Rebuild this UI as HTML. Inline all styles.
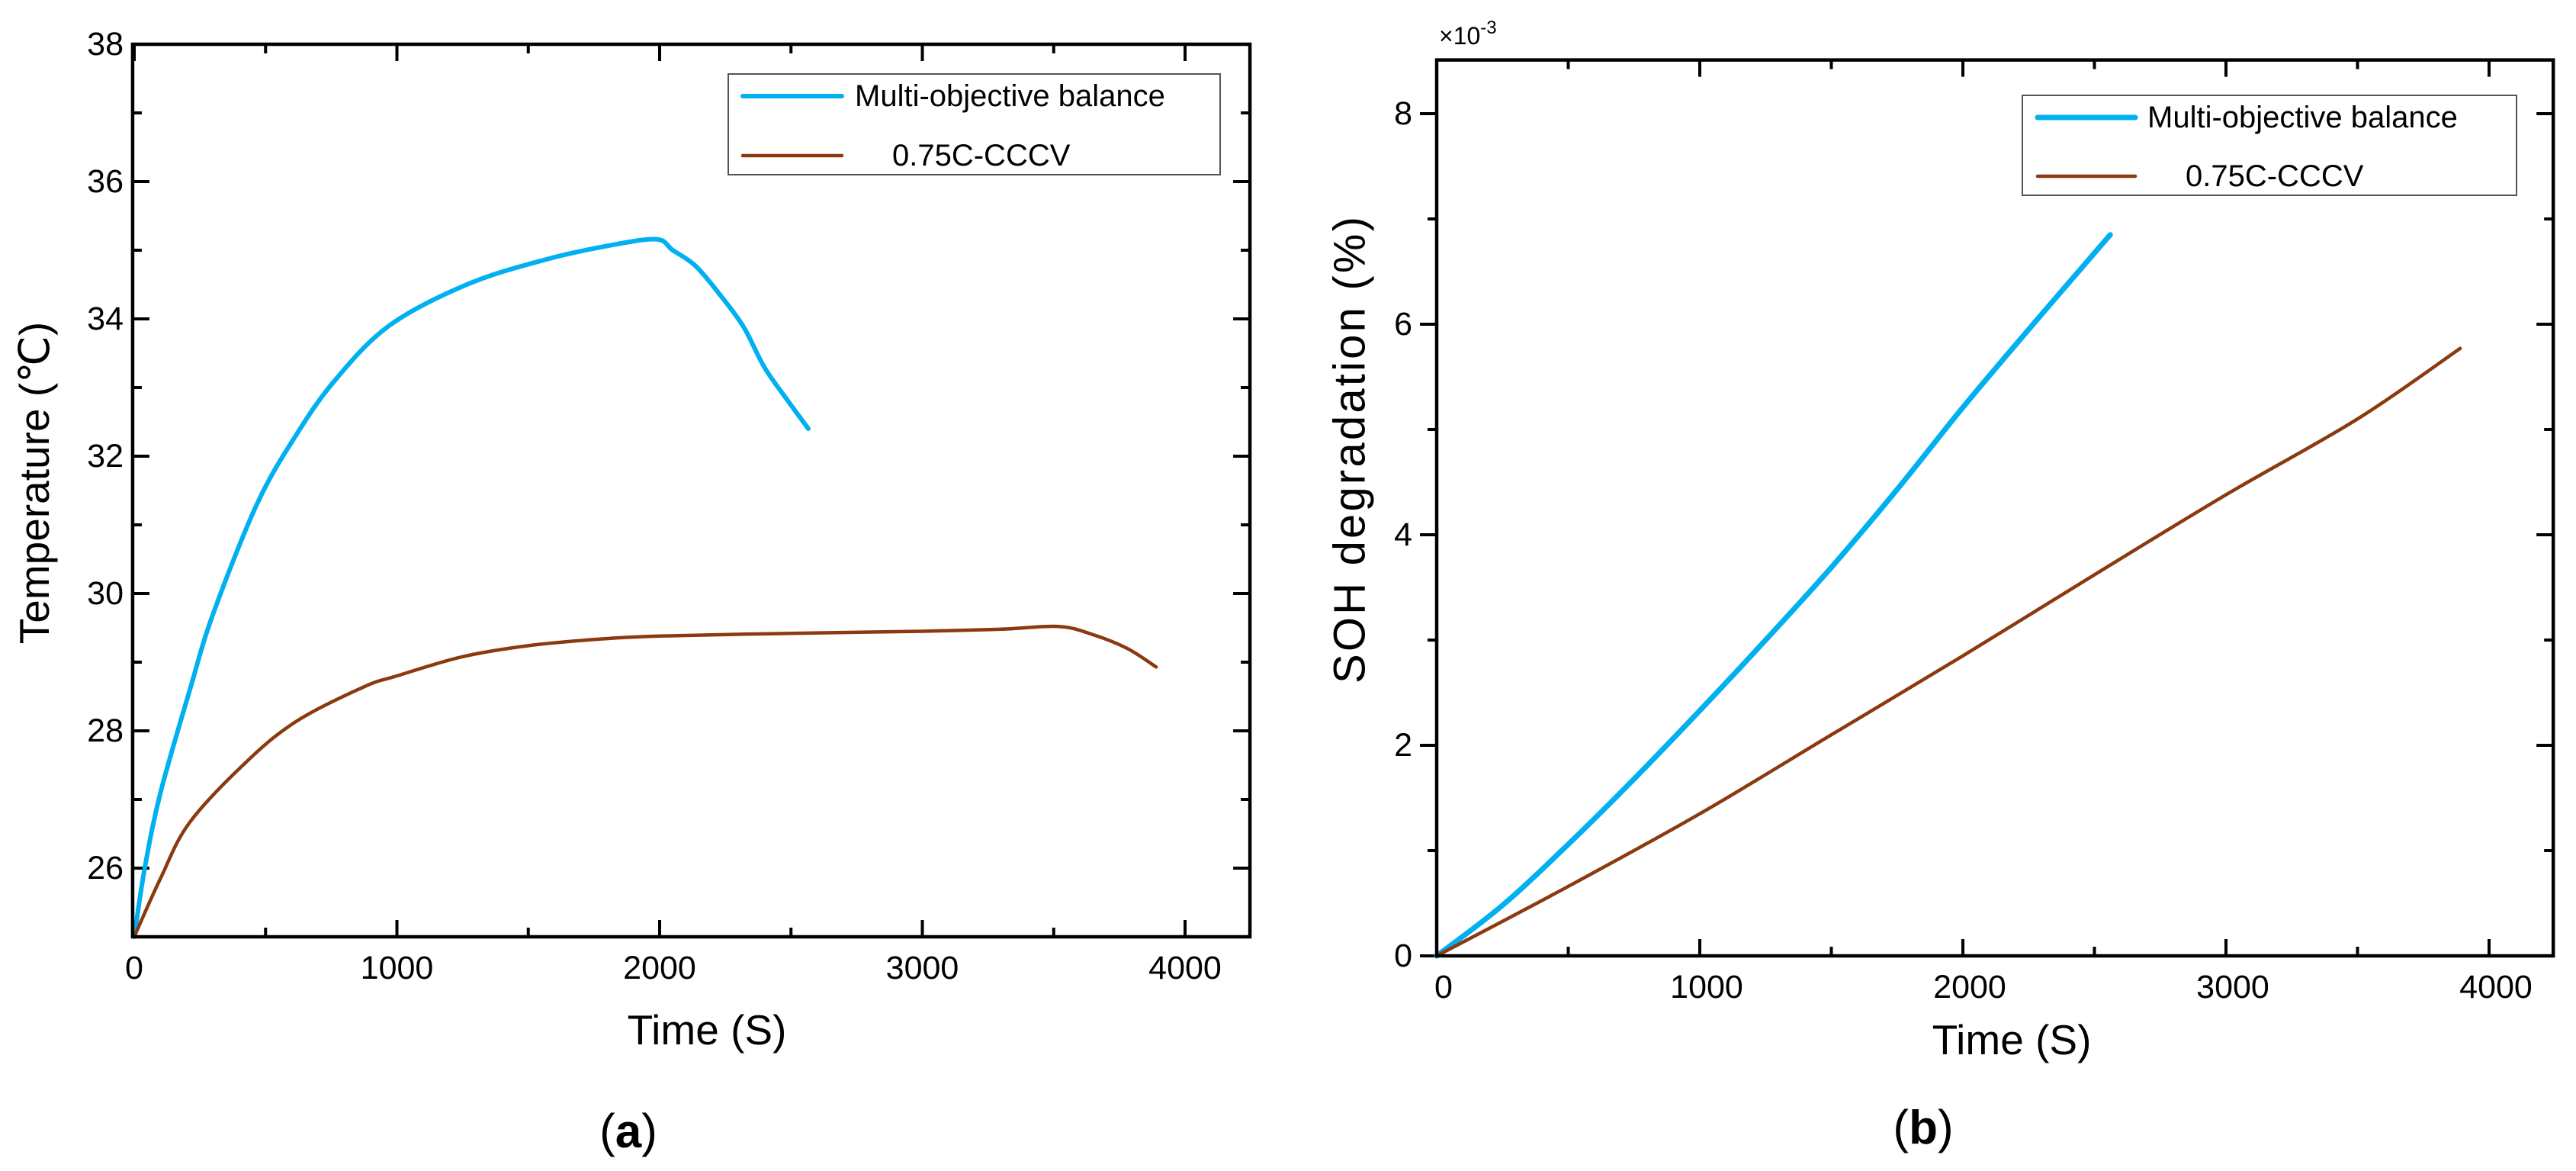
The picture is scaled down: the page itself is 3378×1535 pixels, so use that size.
<!DOCTYPE html>
<html><head><meta charset="utf-8"><style>
html,body{margin:0;padding:0;background:#fff;}
svg{display:block;}
text{font-family:"Liberation Sans",sans-serif;fill:#000;}
</style></head><body>
<svg id="chart" width="3378" height="1535" viewBox="0 0 3378 1535" xmlns="http://www.w3.org/2000/svg" style="position:absolute;left:0;top:0">
<rect x="0" y="0" width="3378" height="1535" fill="#fff"/>
<g id="panelA"></g>
<g id="panelB"></g>
<text x="927" y="1350" font-size="55" text-anchor="middle" dominant-baseline="central">Time (S)</text>
<text transform="translate(45,633) rotate(-90)" font-size="55" text-anchor="middle" dominant-baseline="central" font-family="Liberation Sans, Noto Sans CJK SC, sans-serif">Temperature (℃)</text>
<text x="824" y="1483" font-size="62" text-anchor="middle" dominant-baseline="central" font-family="Liberation Serif, serif">(<tspan font-weight="bold">a</tspan>)</text>
<text x="2638" y="1363" font-size="55" text-anchor="middle" dominant-baseline="central">Time (S)</text>
<text transform="translate(1770,590) rotate(-90)" font-size="58" text-anchor="middle" dominant-baseline="central" textLength="612" font-family="Liberation Serif, serif">SOH degradation (%)</text>
<text x="1887" y="58" font-size="32">×10<tspan font-size="24" dy="-14">-3</tspan></text>
<text x="2522" y="1478" font-size="62" text-anchor="middle" dominant-baseline="central" font-family="Liberation Serif, serif">(<tspan font-weight="bold">b</tspan>)</text>
</svg>
<script>
// Panel (a) data: temperature
const aBlueT = [0,40,100,212,300,467,615,763,970,1266,1562,1811,1988,2050,2137,2230,2320,2398,2480,2566];
const aBlueV = [25,26,27.1,28.6,29.7,31.3,32.3,33.1,33.9,34.5,34.86,35.07,35.16,35.0,34.77,34.35,33.88,33.3,32.85,32.4];
const aBrownT = [0,100,212,433,622,874,1000,1250,1500,1750,2000,2500,3000,3300,3520,3650,3780,3890];
const aBrownV = [25,25.85,26.67,27.57,28.15,28.64,28.8,29.08,29.24,29.33,29.38,29.42,29.45,29.48,29.52,29.4,29.2,28.93];
const aXTicks = [0,1000,2000,3000,4000];
const aYTicks = [26,28,30,32,34,36,38];
// Panel (b) data: SOH degradation (x1e-3 %)
const bBlueT = [0,250,500,750,1000,1250,1500,1750,2000,2250,2560];
const bBlueV = [0,0.48,1.06,1.68,2.33,3.0,3.69,4.43,5.21,5.95,6.85];
const bBrownT = [0,500,1000,1500,2000,2500,3000,3500,3890];
const bBrownV = [0,0.66,1.35,2.1,2.85,3.62,4.38,5.1,5.77];
const bXTicks = [0,1000,2000,3000,4000];
const bYTicks = [0,2,4,6,8];

const NS = "http://www.w3.org/2000/svg";
function mk(parent, tag, attrs, txt){
  const e = document.createElementNS(NS, tag);
  for (const k in attrs) e.setAttribute(k, attrs[k]);
  if (txt !== undefined) e.textContent = txt;
  parent.appendChild(e);
  return e;
}
function smoothPath(pts){
  let d = "M" + pts[0][0] + "," + pts[0][1];
  for (let i = 0; i < pts.length - 1; i++){
    const p0 = pts[Math.max(i-1,0)], p1 = pts[i], p2 = pts[i+1], p3 = pts[Math.min(i+2,pts.length-1)];
    const c1x = p1[0] + (p2[0]-p0[0])/6, c1y = p1[1] + (p2[1]-p0[1])/6;
    const c2x = p2[0] - (p3[0]-p1[0])/6, c2y = p2[1] - (p3[1]-p1[1])/6;
    d += " C" + c1x + "," + c1y + " " + c2x + "," + c2y + " " + p2[0] + "," + p2[1];
  }
  return d;
}

function drawPanel(g, cfg){
  const sx = v => cfg.x0 + v * cfg.kx;
  const sy = v => cfg.y0 - (v - cfg.ymin) * cfg.ky;
  const L = sx(cfg.xmin), R = sx(cfg.xmax), T = sy(cfg.ymax), B = sy(cfg.ymin);
  for (let v = 0; v <= cfg.xmax; v += 500){
    const major = v % 1000 === 0, len = major ? 22 : 12, x = sx(v);
    const t1 = mk(g, "line", {x1:x, y1:B, x2:x, y2:B-len, stroke:"#000", "stroke-width":4});
    
    
    const t2 = mk(g, "line", {x1:x, y1:T, x2:x, y2:T+len, stroke:"#000", "stroke-width":4});
    
    
  }
  cfg.xTicks.forEach(v => {
    const t = mk(g, "text", {x:sx(v)+cfg.xlabOff, y:cfg.xlabY, "font-size":43, "text-anchor":"middle", "dominant-baseline":"central"}, String(v));
    
    
  });
  for (let v = cfg.yminorStart; v <= cfg.ymax; v += 1){
    const major = cfg.yTicks.indexOf(v) >= 0, len = major ? 22 : 12, y = sy(v);
    const l1 = mk(g, "line", cfg.yTickOut ? {x1:L, y1:y, x2:L-len, y2:y, stroke:"#000","stroke-width":4} : {x1:L, y1:y, x2:L+len, y2:y, stroke:"#000","stroke-width":4});
    
    
    const l2 = mk(g, "line", {x1:R, y1:y, x2:R-len, y2:y, stroke:"#000", "stroke-width":4});
    
    
  }
  cfg.yTicks.forEach(v => {
    const t = mk(g, "text", {x:cfg.ylabX, y:sy(v), "font-size":43, "text-anchor":"end", "dominant-baseline":"central"}, String(v));
    
    
  });
  cfg.series.forEach(s => {
    const pts = s.t.map((t,i) => [sx(t), sy(s.v[i])]);
    const p = mk(g, "path", {d:smoothPath(pts), fill:"none", stroke:s.color, "stroke-width":s.w, "stroke-linecap":"round", "stroke-linejoin":"round"});
    
    
  });
  const fr = mk(g, "rect", {x:L, y:T, width:R-L, height:B-T, fill:"none", stroke:"#000", "stroke-width":4.5});
  
  
  const lg = mk(g, "g", {});
  
  
  const lb = mk(lg, "rect", {x:cfg.leg.x, y:cfg.leg.y, width:cfg.leg.w, height:cfg.leg.h, fill:"#fff", stroke:"#555", "stroke-width":2});
  
  
  cfg.series.forEach((s, i) => {
    const y = cfg.leg.rows[i];
    const ln = mk(lg, "line", {x1:cfg.leg.lx1, y1:y, x2:cfg.leg.lx2, y2:y, stroke:s.color, "stroke-width":s.w, "stroke-linecap":"round"});
    
    
    const tx = mk(lg, "text", {x:cfg.leg.tx[i], y:y, "font-size":40, "dominant-baseline":"central"}, s.label);
    
    
  });
}

const blue = "#00B0F0", brown = "#8B3A0F";
drawPanel(document.getElementById("panelA"), {
  x0:176, kx:0.3445, xmin:-6, xmax:4247, xTicks:aXTicks, xlabY:1269, xlabOff:0,
  y0:1228, ky:90, ymin:25, ymax:38, yTicks:aYTicks, yminorStart:25, ylabX:162, yTickOut:false,
  series:[
    {t:aBlueT, v:aBlueV, color:blue, w:6, name:"line-multi-objective-balance", label:"Multi-objective balance"},
    {t:aBrownT, v:aBrownV, color:brown, w:4.5, name:"line-075c-cccv", label:"0.75C-CCCV"}
  ],
  leg:{x:955, y:97, w:645, h:132, rows:[126,204], lx1:974, lx2:1104, tx:[1121,1170]}
});
drawPanel(document.getElementById("panelB"), {
  x0:1884, kx:0.345, xmin:0, xmax:4244, xTicks:bXTicks, xlabY:1294, xlabOff:9,
  y0:1253, ky:138, ymin:0, ymax:8.51, yTicks:bYTicks, yminorStart:0, ylabX:1852, yTickOut:true,
  series:[
    {t:bBlueT, v:bBlueV, color:blue, w:7, name:"line-multi-objective-balance", label:"Multi-objective balance"},
    {t:bBrownT, v:bBrownV, color:brown, w:4.5, name:"line-075c-cccv", label:"0.75C-CCCV"}
  ],
  leg:{x:2652, y:125, w:648, h:131, rows:[154,231], lx1:2672, lx2:2800, tx:[2816,2866]}
});
</script>
</body></html>
